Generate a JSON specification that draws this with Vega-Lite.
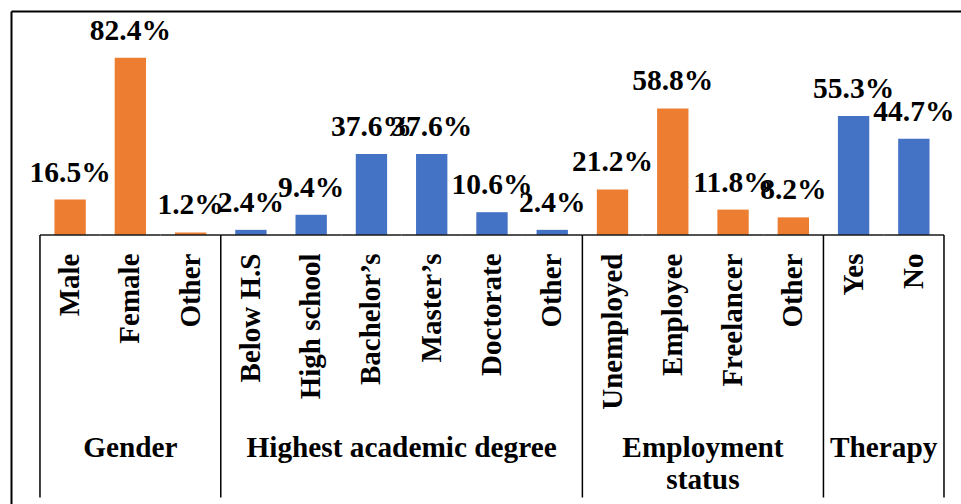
{
  "$schema": "https://vega.github.io/schema/vega-lite/v6.json",
  "width": 950,
  "height": 493,
  "autosize": {"type": "none"},
  "padding": {"left": 11, "top": 11, "right": 0, "bottom": 0},
  "background": "white",
  "config": {"view": {"stroke": null}, "font": "Liberation Serif"},
  "datasets": {
    "items": [
      {"key": "Male", "group": "Gender", "value": 16.5},
      {"key": "Female", "group": "Gender", "value": 82.4},
      {"key": "Other|g", "group": "Gender", "value": 1.2},
      {"key": "Below H.S", "group": "Degree", "value": 2.4},
      {"key": "High school", "group": "Degree", "value": 9.4},
      {"key": "Bachelor’s", "group": "Degree", "value": 37.6},
      {"key": "Master’s", "group": "Degree", "value": 37.6},
      {"key": "Doctorate", "group": "Degree", "value": 10.6},
      {"key": "Other|d", "group": "Degree", "value": 2.4},
      {"key": "Unemployed", "group": "Employment", "value": 21.2},
      {"key": "Employee", "group": "Employment", "value": 58.8},
      {"key": "Freelancer", "group": "Employment", "value": 11.8},
      {"key": "Other|e", "group": "Employment", "value": 8.2},
      {"key": "Yes", "group": "Therapy", "value": 55.3},
      {"key": "No", "group": "Therapy", "value": 44.7}
    ]
  },
  "layer": [
    {
      "data": {"name": "items"},
      "mark": {"type": "bar", "width": {"band": 0.52}},
      "encoding": {
        "x": {
          "field": "key", "type": "nominal",
          "scale": {
            "domain": ["Male", "Female", "Other|g", "Below H.S", "High school", "Bachelor’s", "Master’s", "Doctorate", "Other|d", "Unemployed", "Employee", "Freelancer", "Other|e", "Yes", "No"],
            "paddingInner": 0, "paddingOuter": 0.3815, "align": 0.63
          },
          "axis": {
            "orient": "bottom", "offset": -269, "domain": false, "ticks": false, "tickSize": 0,
            "labelPadding": 18, "labelAngle": 270, "labelAlign": "right", "labelBaseline": "middle",
            "labelFont": "Liberation Serif", "labelFontSize": 29, "labelFontWeight": "bold", "labelColor": "black",
            "labelExpr": "split(datum.label, '|')[0]", "labelOverlap": false, "labelLimit": 0, "grid": false, "title": null
          }
        },
        "y": {
          "field": "value", "type": "quantitative",
          "scale": {"domain": [-125, 104.1], "nice": false, "zero": false},
          "axis": {"orient": "left", "domain": true, "domainColor": "black", "domainWidth": 2, "labels": false, "ticks": false, "grid": false, "title": null}
        },
        "y2": {"datum": 0},
        "color": {
          "field": "group", "type": "nominal",
          "scale": {"domain": ["Gender", "Degree", "Employment", "Therapy"], "range": ["#ED7D31", "#4472C4", "#ED7D31", "#4472C4"]},
          "legend": null
        }
      }
    },
    {
      "data": {"name": "items"},
      "transform": [{"calculate": "format(datum.value, '.1f') + '%'", "as": "lbl"}],
      "mark": {"type": "text", "baseline": "alphabetic", "align": "center", "dy": -18, "font": "Liberation Serif", "fontSize": 29.5, "fontWeight": "bold", "color": "black"},
      "encoding": {
        "x": {"field": "key", "type": "nominal", "axis": {"orient": "top", "domain": true, "domainColor": "black", "domainWidth": 2, "labels": false, "ticks": false, "grid": false, "title": null}},
        "y": {"field": "value", "type": "quantitative"},
        "text": {"field": "lbl"}
      }
    },
    {
      "data": {"name": "items"},
      "mark": {"type": "bar", "width": {"band": 1}, "fillOpacity": 0, "stroke": "#1a1a1a", "strokeWidth": 1.5},
      "encoding": {
        "x": {"field": "key", "type": "nominal", "axis": null},
        "y": {"datum": 0},
        "y2": {"datum": 0}
      }
    },
    {
      "data": {"values": [{"key": "Male"}, {"key": "Below H.S"}, {"key": "Unemployed"}, {"key": "Yes"}]},
      "mark": {"type": "rule", "color": "black", "strokeWidth": 1.5},
      "encoding": {
        "x": {"field": "key", "type": "nominal", "bandPosition": 0, "axis": null},
        "y": {"datum": 0},
        "y2": {"datum": -122}
      }
    },
    {
      "data": {"values": [{"key": "No"}]},
      "mark": {"type": "rule", "color": "black", "strokeWidth": 1.5},
      "encoding": {
        "x": {"field": "key", "type": "nominal", "bandPosition": 1, "axis": null},
        "y": {"datum": 0},
        "y2": {"datum": -122}
      }
    },
    {
      "data": {"values": [{"key": "Female", "title": "Gender"}]},
      "mark": {"type": "text", "baseline": "alphabetic", "align": "center", "font": "Liberation Serif", "fontSize": 29.3, "fontWeight": "bold", "color": "black"},
      "encoding": {
        "x": {"field": "key", "type": "nominal", "bandPosition": 0.5, "axis": null},
        "y": {"datum": -103},
        "text": {"field": "title"}
      }
    },
    {
      "data": {"values": [{"key": "Bachelor’s", "title": "Highest academic degree"}, {"key": "Employee", "title": "Employment\nstatus"}, {"key": "Yes", "title": "Therapy"}]},
      "mark": {"type": "text", "baseline": "alphabetic", "align": "center", "lineBreak": "\n", "lineHeight": 32, "font": "Liberation Serif", "fontSize": 29.3, "fontWeight": "bold", "color": "black"},
      "encoding": {
        "x": {"field": "key", "type": "nominal", "bandPosition": 1, "axis": null},
        "y": {"datum": -103},
        "text": {"field": "title"}
      }
    }
  ],
  "resolve": {"axis": {"x": "independent"}}
}
